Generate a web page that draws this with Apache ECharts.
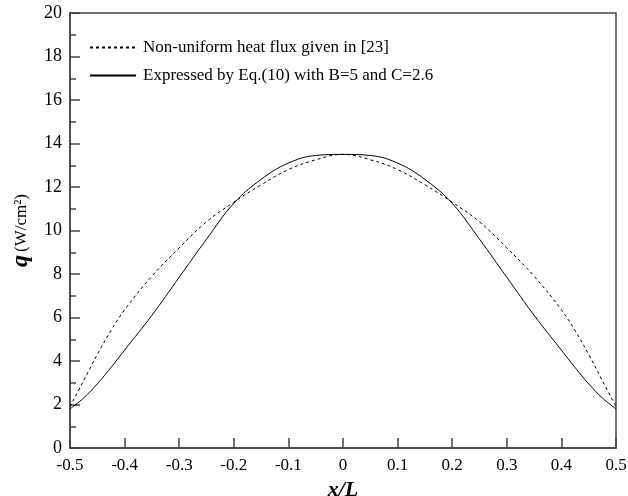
<!DOCTYPE html>
<html>
<head>
<meta charset="utf-8">
<script src="https://cdn.jsdelivr.net/npm/echarts@6/dist/echarts.min.js"></script>
<style>html,body{margin:0;padding:0;background:#fff;}#c{width:628px;height:496px;}</style>
</head>
<body>
<div id="c"></div>
<script>
const xValues = [-0.5,-0.475,-0.45,-0.425,-0.4,-0.35,-0.3,-0.25,-0.2,-0.15,-0.1,-0.05,0,0.05,0.1,0.15,0.2,0.25,0.3,0.35,0.4,0.425,0.45,0.475,0.5];
const dottedValues = [1.9,3.1,4.3,5.4,6.35,7.9,9.2,10.4,11.3,12.1,12.8,13.25,13.5,13.25,12.8,12.1,11.3,10.4,9.2,7.9,6.35,5.4,4.3,3.1,1.9];
const solidValues = [1.8,2.3,2.95,3.7,4.5,6.1,7.85,9.6,11.25,12.35,13.1,13.45,13.5,13.45,13.1,12.35,11.25,9.6,7.85,6.1,4.5,3.7,2.95,2.3,1.8];
const seriesNames = ['Non-uniform heat flux given in [23]','Expressed by Eq.(10) with B=5 and C=2.6'];

const pair = (vals) => xValues.map((x,i)=>[x, vals[i]]);
const axisColor = '#444';
const font = 'Liberation Serif';

const chart = echarts.init(document.getElementById('c'));
chart.setOption({
  animation: false,
  grid: {left: 70, right: 12, top: 13, bottom: 48, containLabel: false, outerBoundsMode: 'none',
         show: true, borderColor: axisColor, borderWidth: 1.5, backgroundColor: 'transparent'},
  legend: {
    orient: 'vertical', left: 84, top: 34, itemWidth: 46, itemHeight: 14, itemGap: 11,
    itemStyle: {opacity: 0},
    textStyle: {fontFamily: font, fontSize: 17, color: '#000', padding: [0,0,0,2]},
    data: seriesNames
  },
  xAxis: {
    type: 'value', min: -0.5, max: 0.5, interval: 0.1,
    axisLine: {onZero: false, lineStyle: {color: axisColor, width: 1.5}},
    axisTick: {inside: true, length: 10, lineStyle: {color: axisColor, width: 1.5}},
    splitLine: {show: false},
    axisLabel: {fontFamily: font, fontSize: 17, color: '#000', margin: 9,
      formatter: v => Math.abs(v) < 1e-9 ? '0' : v.toFixed(1)},
    name: 'x/L', nameLocation: 'middle', nameGap: 27,
    nameTextStyle: {fontFamily: font, fontSize: 22, fontWeight: 'bold', fontStyle: 'italic', color: '#000'}
  },
  yAxis: {
    type: 'value', min: 0, max: 20, interval: 2,
    axisLine: {onZero: false, lineStyle: {color: axisColor, width: 1.5}},
    axisTick: {inside: true, length: 10, lineStyle: {color: axisColor, width: 1.5}},
    minorTick: {show: true, splitNumber: 2, length: 6, lineStyle: {color: axisColor, width: 1.5}},
    splitLine: {show: false},
    axisLabel: {fontFamily: font, fontSize: 18, color: '#000', margin: 8},
    name: '{q|q} {u|(W/cm²)}', nameLocation: 'middle', nameGap: 36, nameRotate: 90,
    nameTextStyle: {fontFamily: font, color: '#000',
      rich: {q: {fontFamily: font, fontSize: 24, fontWeight: 'bold', fontStyle: 'italic', color: '#000'},
             u: {fontFamily: font, fontSize: 17, color: '#000'}}}
  },
  series: [
    {name: seriesNames[0], type: 'line', data: pair(dottedValues), symbol: 'none', smooth: 0.4,
     itemStyle: {color: '#000'},
     lineStyle: {color: '#000', width: 1, type: [3,3]}},
    {name: seriesNames[1], type: 'line', data: pair(solidValues), symbol: 'none', smooth: 0.4,
     itemStyle: {color: '#000'},
     lineStyle: {color: '#000', width: 1, type: 'solid'}}
  ]
});
</script>
</body>
</html>
